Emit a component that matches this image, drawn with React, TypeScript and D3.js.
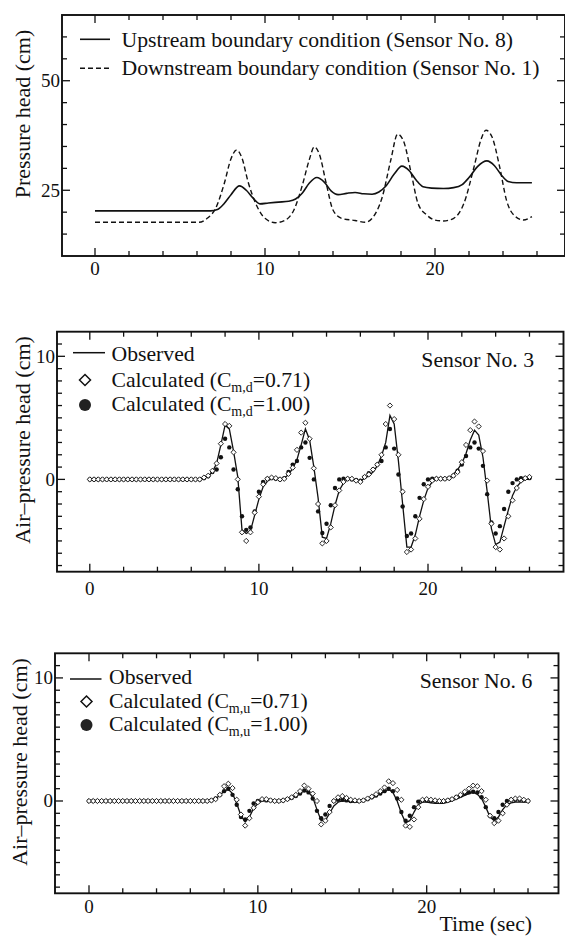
import React from 'react';
import * as d3 from 'd3';

// ---------- DATA ----------
// Top panel: boundary conditions (time in s, pressure head in cm)
const upTimes = [0, 6.8, 7.2, 7.6, 8.0, 8.5, 8.9, 9.3, 9.7, 10.2, 10.8, 11.4, 11.8, 12.2, 12.6, 13.05, 13.5, 13.9, 14.3, 14.8, 15.3, 15.8, 16.3, 16.7, 17.1, 17.6, 18.05, 18.5, 18.9, 19.3, 19.8, 20.5, 21.1, 21.6, 22.0, 22.5, 23.05, 23.5, 23.9, 24.3, 24.8, 25.7];
const upHead = [20.3, 20.3, 20.6, 22.0, 24.0, 26.0, 25.0, 23.2, 21.9, 22.1, 22.3, 22.5, 23.0, 24.4, 26.6, 27.9, 26.8, 24.8, 24.0, 24.3, 24.5, 24.2, 24.1, 24.6, 25.9, 28.7, 30.5, 29.4, 27.3, 25.8, 25.5, 25.4, 25.6, 26.3, 27.9, 30.4, 31.7, 30.6, 28.5, 27.0, 26.7, 26.7];
const downTimes = [0, 6.1, 6.6, 7.1, 7.6, 8.0, 8.33, 8.65, 9.0, 9.45, 10.0, 10.6, 11.2, 11.7, 12.2, 12.6, 12.9, 13.2, 13.6, 14.0, 14.5, 15.3, 15.9, 16.3, 16.9, 17.4, 17.8, 18.15, 18.6, 19.0, 19.5, 20.0, 20.5, 21.1, 21.7, 22.3, 22.7, 23.0, 23.35, 23.8, 24.2, 24.7, 25.2, 25.7];
const downHead = [17.7, 17.7, 18.6, 20.9, 26.5, 32.2, 34.2, 32.3, 27.0, 22.0, 18.6, 17.6, 18.2, 20.5, 26.2, 31.9, 34.9, 33.2, 26.6, 20.5, 18.6, 18.1, 17.7, 18.6, 23.5, 31.9, 37.8, 36.2, 28.9, 22.0, 19.4, 18.2, 18.0, 18.6, 22.0, 30.4, 36.5, 38.7, 37.2, 30.4, 22.8, 19.1, 18.2, 19.0];

// Middle & bottom panels: sampled every 0.25 s from 0 to 26 s
const sampleTimes = d3.range(0, 26.0001, 0.25);

// Sensor No. 3 (air-pressure head, cm)
const obsSensor3 = [
  0, 0, 0, 0, 0, 0, 0, 0, 0, 0, 0, 0, 0, 0, 0, 0, 0, 0, 0, 0, 0, 0, 0, 0,
  0, 0, 0, 0.1,
  0.25, 0.6, 1.3, 2.8,
  4.4, 4.1, 2.3, 0.2,
  -4.1, -4.4, -4.2, -2.9,
  -1.6, -0.6, -0.15, 0.05,
  0.1, 0.0, 0.1, 0.4,
  0.9, 1.6, 2.8, 4.1,
  3.2, 1.0, -1.5, -4.7,
  -4.8, -3.6, -2.1, -0.9,
  -0.3, 0.0, 0.0, -0.1,
  -0.15, 0.1, 0.3, 0.6,
  1.1, 1.9, 3.0, 5.2,
  4.5, 1.5, -2.0, -5.5,
  -5.5, -4.5, -3.0, -1.7,
  -0.7, -0.2, 0.0, 0.0,
  0.0, 0.1, 0.4, 0.8,
  1.3, 2.1, 3.2, 4.0,
  3.6, 1.8, -1.0, -4.0,
  -5.3, -5.1, -3.8, -2.5,
  -1.3, -0.6, -0.2, 0.0,
  0.0,
];
const calc071Sensor3 = [
  0, 0, 0, 0, 0, 0, 0, 0, 0, 0, 0, 0, 0, 0, 0, 0, 0, 0, 0, 0, 0, 0, 0, 0,
  0, 0, 0, 0.15,
  0.3, 0.7, 1.3, 2.9,
  4.5, 4.35, 2.2, 0.0,
  -4.3, -5.0, -4.3, -2.7,
  -1.4, -0.4, 0.05, 0.15,
  0.1, 0.0, 0.05, 0.45,
  0.95, 2.4, 3.8, 4.6,
  3.3, 0.9, -2.0, -5.2,
  -5.0, -3.9, -2.1, -0.9,
  -0.2, 0.05, 0.05, -0.1,
  -0.2, 0.2, 0.4, 0.8,
  1.2, 2.0, 4.5, 6.0,
  4.9, 2.0, -1.0, -5.9,
  -5.7, -4.8, -3.2, -1.6,
  -0.6, -0.1, 0.05, 0.05,
  0.05, 0.1, 0.3, 0.6,
  1.4, 2.8, 4.0, 4.7,
  4.3, 2.3, -0.1, -3.6,
  -5.5, -5.7, -4.8, -3.0,
  -1.7, -0.7, -0.1, 0.1,
  0.2,
];
const calc100Sensor3 = [
  0, 0, 0, 0, 0, 0, 0, 0, 0, 0, 0, 0, 0, 0, 0, 0, 0, 0, 0, 0, 0, 0, 0, 0,
  0, 0, 0, 0.1,
  0.25, 0.6, 0.8, 1.8,
  3.3, 2.6, 0.8, -0.8,
  -3.0, -4.1, -3.9, -2.6,
  -1.0, -0.2, 0.05, 0.1,
  0.05, 0.0, 0.1, 0.6,
  1.2, 1.5, 2.6, 3.0,
  1.75, 0.0, -2.6, -4.35,
  -3.6, -2.1, -0.7, 0.0,
  0.05, 0.05, 0.0, -0.05,
  -0.1, 0.2, 0.5, 0.8,
  1.2, 1.5, 2.6, 4.1,
  2.5, 0.4, -2.2, -4.6,
  -4.4, -3.0, -1.5, -0.4,
  0.0, 0.05, 0.05, 0.05,
  0.05, 0.1, 0.3, 0.7,
  1.2, 1.9, 2.6, 3.0,
  2.5, 1.1, -1.2, -3.5,
  -4.4, -3.8, -2.4, -1.0,
  -0.3, 0.0, 0.1, 0.1,
  0.1,
];

// Sensor No. 6 (air-pressure head, cm)
const obsSensor6 = [
  0, 0, 0, 0, 0, 0, 0, 0, 0, 0, 0, 0, 0, 0, 0, 0, 0, 0, 0, 0, 0, 0, 0, 0,
  0, 0, 0, 0,
  0, 0.1, 0.2, 0.45,
  0.8, 0.95, 0.6, -0.2,
  -1.2, -1.7, -1.3, -0.6,
  -0.2, 0.0, 0.05, 0.0,
  -0.05, 0.0, 0.05, 0.15,
  0.25, 0.4, 0.6, 0.85,
  0.75, 0.3, -0.7, -1.6,
  -1.6, -1.0, -0.4, -0.1,
  0.0, 0.0, -0.1, -0.1,
  -0.1, 0.0, 0.1, 0.25,
  0.4, 0.6, 0.8, 0.95,
  0.7, 0.0, -1.0, -1.75,
  -1.6, -0.9, -0.3, -0.1,
  -0.1, -0.15, -0.2, -0.2,
  -0.2, -0.1, 0.0, 0.15,
  0.3, 0.45, 0.6, 0.7,
  0.55, 0.2, -0.5, -1.3,
  -1.6, -1.3, -0.7, -0.3,
  -0.15, -0.1, -0.1, -0.1,
  -0.1,
];
const calc071Sensor6 = [
  0, 0, 0, 0, 0, 0, 0, 0, 0, 0, 0, 0, 0, 0, 0, 0, 0, 0, 0, 0, 0, 0, 0, 0,
  0, 0, 0, 0,
  0, 0.05, 0.15, 0.5,
  1.2, 1.4, 1.05, 0.1,
  -1.1, -2.0, -1.4, -0.55,
  -0.1, 0.15, 0.15, 0.05,
  0.0, 0.0, 0.05, 0.15,
  0.3, 0.5, 0.8, 1.25,
  1.0, 0.6, 0.0, -1.9,
  -1.6, -0.9, 0.0, 0.3,
  0.4, 0.25, 0.1, 0.05,
  0.0, 0.05, 0.2, 0.35,
  0.55, 0.8, 1.1, 1.6,
  1.45, 0.9, 0.1, -2.0,
  -2.1, -1.5, -0.5, 0.1,
  0.15, 0.1, 0.05, 0.0,
  0.0, 0.05, 0.15, 0.3,
  0.5, 0.75, 1.0, 1.25,
  1.2, 0.8, 0.1, -1.2,
  -1.8, -1.6, -1.0, -0.3,
  0.1, 0.2, 0.2, 0.1,
  0.0,
];
const calc100Sensor6 = [
  0, 0, 0, 0, 0, 0, 0, 0, 0, 0, 0, 0, 0, 0, 0, 0, 0, 0, 0, 0, 0, 0, 0, 0,
  0, 0, 0, 0,
  0, 0.05, 0.2, 0.5,
  0.8, 1.0, 0.5, -0.3,
  -1.3, -1.5, -0.8, -0.2,
  0.0, 0.1, 0.05, 0.05,
  0.0, 0.0, 0.05, 0.15,
  0.25, 0.4, 0.6, 0.85,
  0.7, 0.2, -0.8, -1.4,
  -1.1, -0.4, 0.0, 0.1,
  0.1, 0.05, 0.0, 0.0,
  0.0, 0.05, 0.15, 0.3,
  0.45, 0.6, 0.8, 1.0,
  0.8, 0.2, -0.9, -1.6,
  -1.2, -0.5, -0.05, 0.05,
  0.05, 0.0, 0.0, 0.0,
  0.0, 0.05, 0.15, 0.3,
  0.45, 0.6, 0.7, 0.75,
  0.7, 0.3, -0.5, -1.2,
  -1.4, -0.9, -0.3, 0.0,
  0.1, 0.1, 0.1, 0.05,
  0.0,
];

// Tick values / labels
const xMinorTicks = d3.range(-2, 29, 2);
const xLabelTicks = [0, 10, 20];
const topYTicks = [15, 20, 25, 30, 35, 40, 45, 50, 55, 60];
const topYLabels = [25, 50];
const airYTicks = d3.range(-7, 12, 1);
const airYLabels = [0, 10];

// ---------- DRAWING ----------
const FONT = 'Liberation Serif, Tinos, Times New Roman, Times, DejaVu Serif, serif';

type Frame = { l: number; r: number; t: number; b: number };

function Axes({ frame, x, y, yTicks, yLabels, xLabelBase, yLabelRight }: any) {
  const f: Frame = frame;
  const els: any[] = [];
  xMinorTicks.forEach((v) => {
    const px = x(v);
    if (px <= f.l + 1 || px >= f.r - 1) return;
    const len = xLabelTicks.includes(v) ? 8 : 5;
    els.push(<line key={'xb' + v} x1={px} x2={px} y1={f.b} y2={f.b - len} />);
    els.push(<line key={'xt' + v} x1={px} x2={px} y1={f.t} y2={f.t + len} />);
  });
  yTicks.forEach((v: number) => {
    const py = y(v);
    const len = yLabels.includes(v) ? 8 : 5;
    els.push(<line key={'yl' + v} x1={f.l} x2={f.l + len} y1={py} y2={py} />);
    els.push(<line key={'yr' + v} x1={f.r} x2={f.r - len} y1={py} y2={py} />);
  });
  return (
    <g>
      <g stroke="#111" strokeWidth={1.3}>{els}</g>
      <rect x={f.l} y={f.t} width={f.r - f.l} height={f.b - f.t} fill="none" stroke="#111" strokeWidth={1.9} />
      <g style={{ fontFamily: FONT }} fontSize={19} fill="#111">
        {xLabelTicks.map((v) => (
          <text key={'xl' + v} x={x(v)} y={xLabelBase} textAnchor="middle">{v}</text>
        ))}
        {yLabels.map((v: number) => (
          <text key={'yl' + v} x={yLabelRight} y={y(v) + 6.5} textAnchor="end">{v}</text>
        ))}
      </g>
    </g>
  );
}

function Diamond({ cx, cy, s, sw }: any) {
  return (
    <path
      d={`M${cx},${cy - s}L${cx + s},${cy}L${cx},${cy + s}L${cx - s},${cy}Z`}
      fill="#fff"
      stroke="#111"
      strokeWidth={sw}
    />
  );
}

function TopPanel() {
  const frame: Frame = { l: 62, r: 565, t: 15, b: 256 };
  const x = d3.scaleLinear().domain([0, 20]).range([95, 435]);
  const y = d3.scaleLinear().domain([10, 65]).range([256, 15]);
  const line = d3
    .line<[number, number]>()
    .x((d) => x(d[0]))
    .y((d) => y(d[1]))
    .curve(d3.curveMonotoneX);
  const up = upTimes.map((t, i) => [t, upHead[i]] as [number, number]);
  const down = downTimes.map((t, i) => [t, downHead[i]] as [number, number]);
  return (
    <g>
      <path d={line(down) || ''} fill="none" stroke="#111" strokeWidth={1.4} strokeDasharray="5,3" />
      <path d={line(up) || ''} fill="none" stroke="#111" strokeWidth={1.6} />
      <Axes frame={frame} x={x} y={y} yTicks={topYTicks} yLabels={topYLabels} xLabelBase={275} yLabelRight={60} />
      <g style={{ fontFamily: FONT }} fontSize={21.7} fill="#111">
        <line x1={80} x2={110} y1={39.3} y2={39.3} stroke="#111" strokeWidth={1.6} />
        <text x={121.5} y={46.7}>Upstream boundary condition (Sensor No. 8)</text>
        <line x1={80} x2={110} y1={68.3} y2={68.3} stroke="#111" strokeWidth={1.4} strokeDasharray="5,3" />
        <text x={121.5} y={75}>Downstream boundary condition (Sensor No. 1)</text>
        <text transform="translate(30,114) rotate(-90)" textAnchor="middle" fontSize={22}>Pressure head (cm)</text>
      </g>
    </g>
  );
}

function AirPanel({ frame, x0, x20, obs, c071, c100, sub, sensor, legend, titleX, titleY, xLabelBase, sensorBase, sensorRight, showTime }: any) {
  const f: Frame = frame;
  const x = d3.scaleLinear().domain([0, 20]).range([x0, x20]);
  const y = d3.scaleLinear().domain([-7.5, 12]).range([f.b, f.t]);
  const line = d3
    .line<number>()
    .x((_, i) => x(sampleTimes[i]))
    .y((d) => y(d));
  return (
    <g>
      <path d={line(obs) || ''} fill="none" stroke="#111" strokeWidth={1.3} />
      <g fill="#111">
        {c100.map((v: number, i: number) => (
          <circle key={'c' + i} cx={x(sampleTimes[i])} cy={y(v)} r={2.2} />
        ))}
      </g>
      <g>
        {c071.map((v: number, i: number) => (
          <Diamond key={'d' + i} cx={x(sampleTimes[i])} cy={y(v)} s={2.6} sw={0.9} />
        ))}
      </g>
      <Axes frame={f} x={x} y={y} yTicks={airYTicks} yLabels={airYLabels} xLabelBase={xLabelBase} yLabelRight={f.l - 2} />
      <g style={{ fontFamily: FONT }} fontSize={21.7} fill="#111">
        <line x1={legend.lx1} x2={legend.lx2} y1={legend.ly} y2={legend.ly} stroke="#111" strokeWidth={1.5} />
        <text x={legend.tx} y={legend.b1}>Observed</text>
        <Diamond cx={legend.mx} cy={legend.b2 - 6.5} s={5.5} sw={1.5} />
        <text x={legend.tx} y={legend.b2}>
          Calculated (C<tspan fontSize={14} dy={5}>{sub}</tspan>
          <tspan dy={-5}>=0.71)</tspan>
        </text>
        <circle cx={legend.mx} cy={legend.b3 - 6} r={6} fill="#222" />
        <text x={legend.tx} y={legend.b3}>
          Calculated (C<tspan fontSize={14} dy={5}>{sub}</tspan>
          <tspan dy={-5}>=1.00)</tspan>
        </text>
        <text x={sensorRight} y={sensorBase} textAnchor="end">{sensor}</text>
        <text transform={`translate(${titleX},${titleY}) rotate(-90)`} textAnchor="middle" fontSize={22}>Air–pressure head (cm)</text>
        {showTime ? <text x={532} y={931} textAnchor="end">Time (sec)</text> : null}
      </g>
    </g>
  );
}

export default function App() {
  return (
    <svg
      width={565}
      height={936}
      viewBox="0 0 565 936"
      style={{ position: 'absolute', left: 0, top: 0, display: 'block', background: '#fff' }}
    >
      <rect x={0} y={0} width={565} height={936} fill="#fff" />
      <TopPanel />
      <AirPanel
        frame={{ l: 57, r: 563.5, t: 331.7, b: 571.7 }}
        x0={89.8}
        x20={428}
        obs={obsSensor3}
        c071={calc071Sensor3}
        c100={calc100Sensor3}
        sub="m,d"
        sensor="Sensor No. 3"
        legend={{ lx1: 73, lx2: 105, ly: 352.7, tx: 111.5, mx: 85, b1: 361, b2: 386.5, b3: 411 }}
        titleX={30}
        titleY={440}
        xLabelBase={595}
        sensorBase={366.5}
        sensorRight={534}
        showTime={false}
      />
      <AirPanel
        frame={{ l: 55, r: 558.5, t: 653.3, b: 893.3 }}
        x0={89}
        x20={426.7}
        obs={obsSensor6}
        c071={calc071Sensor6}
        c100={calc100Sensor6}
        sub="m,u"
        sensor="Sensor No. 6"
        legend={{ lx1: 70, lx2: 101.5, ly: 679, tx: 109, mx: 86.5, b1: 683.5, b2: 708, b3: 731 }}
        titleX={26.5}
        titleY={762}
        xLabelBase={913}
        sensorBase={688.3}
        sensorRight={532.3}
        showTime={true}
      />
    </svg>
  );
}
